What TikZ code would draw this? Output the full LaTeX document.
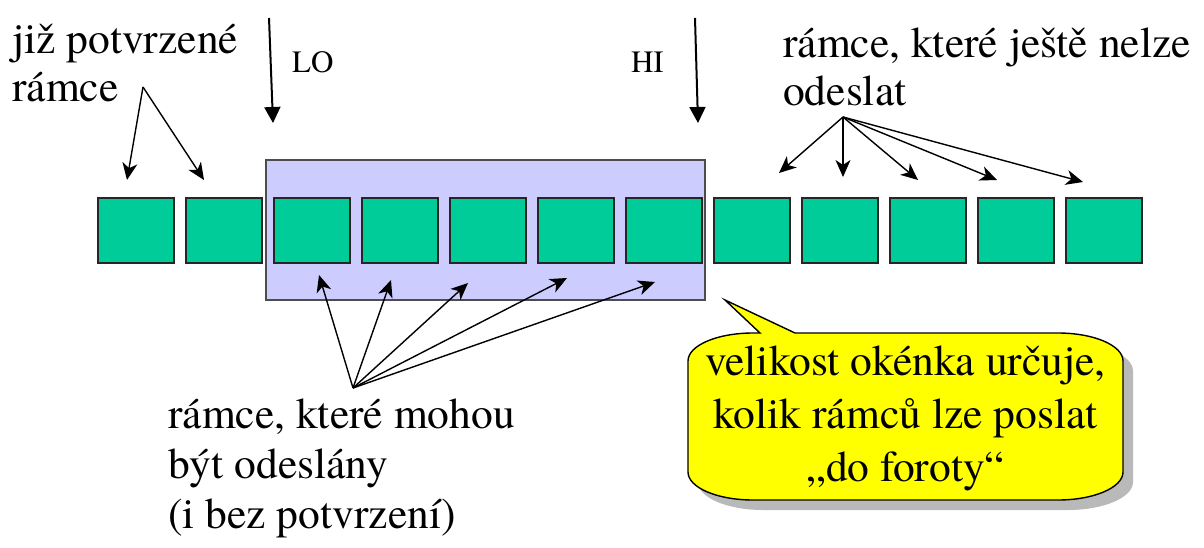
\documentclass[tikz,border=0pt]{standalone}
\usepackage{fontspec}
\setmainfont{texgyretermes-regular.otf}
\newfontfamily\tnr{texgyretermes-regular.otf}
\usetikzlibrary{arrows.meta}
\definecolor{frameg}{RGB}{0,204,153}
\definecolor{winblue}{RGB}{204,204,255}
\definecolor{callyel}{RGB}{255,255,0}
\begin{document}
\begin{tikzpicture}[x=1pt,y=-1pt,
  framebox/.style={draw=black!85, line width=1.4pt, fill=frameg, minimum width=76pt, minimum height=65pt, inner sep=0pt},
  winbox/.style={draw=black!70, line width=2pt, fill=winblue, minimum width=439pt, minimum height=140pt, inner sep=0pt},
  lbl/.style={font=\tnr\fontsize{43.5}{48}\selectfont, inner sep=0pt, anchor=base west, align=left},
  smalllbl/.style={font=\tnr\fontsize{31}{36}\selectfont, inner sep=0pt, anchor=base west},
  bigarrow/.style={line width=2pt, -{Triangle[length=16pt,width=16pt]}},
  thinarrow/.style={line width=1.4pt, -{Stealth[length=17pt,width=15pt,inset=5pt]}},
]
\useasboundingbox (0,0) rectangle (1204,548);
% window
\node[winbox] (window) at (485.5,230) {};
% frames
\foreach \i in {1,...,12} \node[framebox] (b\i) at ({136+88*(\i-1)},230.5) {};
% callout
\def\calloutpath{(725,300) -- (795,333) -- (1058,333) .. controls (1094,333) and (1123,345.5) .. (1123,361) -- (1123,472) .. controls (1123,487.5) and (1094,500) .. (1058,500) -- (753,500) .. controls (717,500) and (688,487.5) .. (688,472) -- (688,361) .. controls (688,345.5) and (717,333) .. (753,333) -- (760,333) -- cycle}
\fill[gray!55, shift={(10,10)}] \calloutpath;
\draw[fill=callyel, line width=1.4pt] \calloutpath;
\node[lbl, anchor=base, align=center, font=\tnr\fontsize{43.5}{53}\selectfont] (note) at (905.5,481) {velikost okénka určuje,\\kolik rámců lze poslat\\„do foroty“};
% texts (base anchor = baseline of last line)
\node[lbl] (acked) at (12,102) {již potvrzené\\rámce};
\node[lbl] (notyet) at (783,106) {rámce, které ještě nelze\\odeslat};
\node[lbl, font=\tnr\fontsize{43.5}{50}\selectfont] (cansend) at (168,528) {rámce, které mohou\\být odeslány\\(i bez potvrzení)};
\node[smalllbl] (lo) at (292,73) {LO};
\node[smalllbl, anchor=base east] (hi) at (664,73) {HI};
% LO / HI pointers
\coordinate (lotop) at (269,18);
\coordinate (lotip) at (273,123);
\coordinate (hitop) at (695,18);
\coordinate (hitip) at (698,123);
\draw[bigarrow] (lotop) -- (lotip);
\draw[bigarrow] (hitop) -- (hitip);
% acked arrows
\coordinate (ackorig) at (143,87);
\coordinate (ack1) at (127,180);
\coordinate (ack2) at (204,180);
\draw[thinarrow] (ackorig) -- (ack1);
\draw[thinarrow] (ackorig) -- (ack2);
% not yet arrows
\coordinate (nyorig) at (843,117);
\coordinate (ny1) at (779,173);
\coordinate (ny2) at (843,177);
\coordinate (ny3) at (918,180);
\coordinate (ny4) at (997,180);
\coordinate (ny5) at (1083,182);
\foreach \k in {1,...,5} \draw[thinarrow] (nyorig) -- (ny\k);
% can send arrows
\coordinate (csorig) at (353,388);
\coordinate (cs1) at (319,275);
\coordinate (cs2) at (391,280);
\coordinate (cs3) at (468,283);
\coordinate (cs4) at (567,278);
\coordinate (cs5) at (655,282);
\foreach \k in {1,...,5} \draw[thinarrow] (csorig) -- (cs\k);
\end{tikzpicture}
\end{document}
